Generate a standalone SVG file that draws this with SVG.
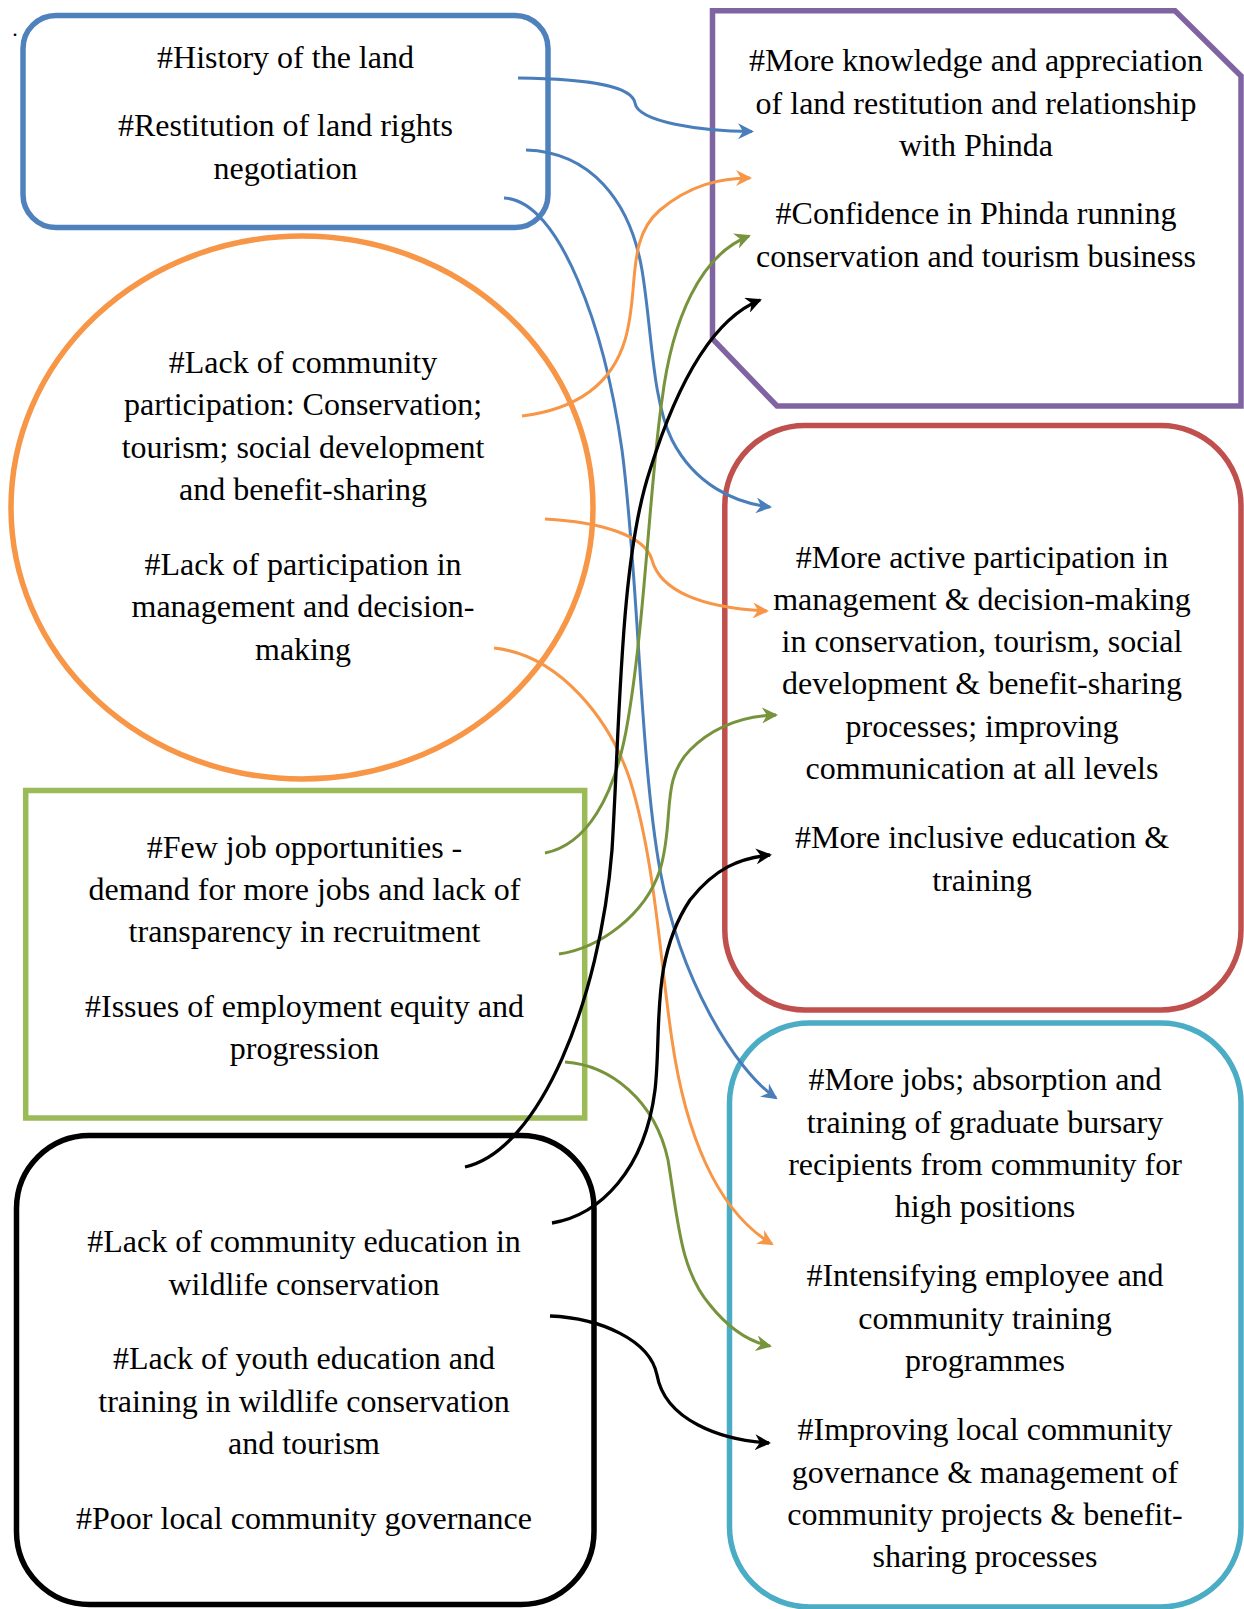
<svg xmlns="http://www.w3.org/2000/svg" width="1244" height="1609" viewBox="0 0 1244 1609">
<style>
text{font-family:"Liberation Serif","Times New Roman",serif;font-size:32px;fill:#000;text-anchor:middle}
.nb{fill:none;stroke-width:5.5}
.c{fill:none;stroke-width:3}
.cb{stroke:#4a7ebb}
.co{stroke:#f79646}
.cg{stroke:#77933c}
.ck{stroke:#000;stroke-width:3.3}
</style>
<defs>
<marker id="ab" viewBox="0 0 16 16" markerWidth="16" markerHeight="16" refX="14" refY="8" orient="auto" markerUnits="userSpaceOnUse"><path d="M0,0 L16,8 L0,16 L5,8 z" fill="#4a7ebb"/></marker>
<marker id="ao" viewBox="0 0 16 16" markerWidth="16" markerHeight="16" refX="14" refY="8" orient="auto" markerUnits="userSpaceOnUse"><path d="M0,0 L16,8 L0,16 L5,8 z" fill="#f79646"/></marker>
<marker id="ag" viewBox="0 0 16 16" markerWidth="16" markerHeight="16" refX="14" refY="8" orient="auto" markerUnits="userSpaceOnUse"><path d="M0,0 L16,8 L0,16 L5,8 z" fill="#77933c"/></marker>
<marker id="ak" viewBox="0 0 16 16" markerWidth="16" markerHeight="16" refX="14" refY="8" orient="auto" markerUnits="userSpaceOnUse"><path d="M0,0 L16,8 L0,16 L5,8 z" fill="#000"/></marker>
</defs>
<rect width="1244" height="1609" fill="#fff"/>
<text x="15" y="36" style="font-size:22px">.</text>

<g id="n-land">
<rect class="nb" x="23" y="15.5" width="525" height="212" rx="33" stroke="#4f81bd"/>
<text x="285.5" y="67.5">#History of the land</text>
<text x="285.5" y="136">#Restitution of land rights</text>
<text x="285.5" y="178.5">negotiation</text>
</g>

<g id="n-participation">
<ellipse class="nb" cx="302" cy="507.5" rx="291" ry="271.5" stroke="#f79646"/>
<text x="303" y="373">#Lack of community</text>
<text x="303" y="415">participation: Conservation;</text>
<text x="303" y="457.5">tourism; social development</text>
<text x="303" y="499.5">and benefit-sharing</text>
<text x="303" y="575">#Lack of participation in</text>
<text x="303" y="617">management and decision-</text>
<text x="303" y="659.5">making</text>
</g>

<g id="n-jobs">
<rect class="nb" x="25.7" y="790.5" width="559" height="327.5" stroke="#9bbb59"/>
<text x="304.5" y="858">#Few job opportunities -</text>
<text x="304.5" y="899.5">demand for more jobs and lack of</text>
<text x="304.5" y="941.5">transparency in recruitment</text>
<text x="304.5" y="1016.5">#Issues of employment equity and</text>
<text x="304.5" y="1059">progression</text>
</g>

<g id="n-education">
<rect class="nb" x="16.5" y="1135.5" width="577.5" height="469" rx="73" stroke="#000"/>
<text x="304" y="1252">#Lack of community education in</text>
<text x="304" y="1294.5">wildlife conservation</text>
<text x="304" y="1368.5">#Lack of youth education and</text>
<text x="304" y="1411.5">training in wildlife conservation</text>
<text x="304" y="1453.5">and tourism</text>
<text x="304" y="1529">#Poor local community governance</text>
</g>

<g id="n-knowledge">
<polygon class="nb" points="712.5,10.8 1175,10.8 1241,76 1241,406 777,406 712.5,339" stroke="#8064a2"/>
<text x="976" y="71">#More knowledge and appreciation</text>
<text x="976" y="113.5">of land restitution and relationship</text>
<text x="976" y="155.5">with Phinda</text>
<text x="976" y="224">#Confidence in Phinda running</text>
<text x="976" y="267">conservation and tourism business</text>
</g>

<g id="n-active">
<rect class="nb" x="724.8" y="425.5" width="516.2" height="584.5" rx="80" stroke="#c0504d"/>
<text x="982" y="568">#More active participation in</text>
<text x="982" y="610">management &amp; decision-making</text>
<text x="982" y="652.3">in conservation, tourism, social</text>
<text x="982" y="694.3">development &amp; benefit-sharing</text>
<text x="982" y="736.8">processes; improving</text>
<text x="982" y="778.8">communication at all levels</text>
<text x="982" y="848">#More inclusive education &amp;</text>
<text x="982" y="891.3">training</text>
</g>

<g id="n-morejobs">
<rect class="nb" x="729.5" y="1023" width="511.5" height="584" rx="80" stroke="#4bacc6"/>
<text x="985" y="1090">#More jobs; absorption and</text>
<text x="985" y="1132.5">training of graduate bursary</text>
<text x="985" y="1174.8">recipients from community for</text>
<text x="985" y="1217.3">high positions</text>
<text x="985" y="1286.3">#Intensifying employee and</text>
<text x="985" y="1328.8">community training</text>
<text x="985" y="1371.3">programmes</text>
<text x="985" y="1440">#Improving local community</text>
<text x="985" y="1482.5">governance &amp; management of</text>
<text x="985" y="1524.5">community projects &amp; benefit-</text>
<text x="985" y="1566.8">sharing processes</text>
</g>

<g id="connectors">
<path class="c cb" marker-end="url(#ab)" d="M518,78 C600,79 632,88 635,103 C638,122 700,131 752,131.5"/>
<path class="c cb" marker-end="url(#ab)" d="M526,150 C590,152 630,200 642,270 C652,330 652,400 672,440 C695,485 735,503 770,507"/>
<path class="c cb" marker-end="url(#ab)" d="M504,198 C560,200 605,330 622,450 C638,570 640,760 660,870 C680,980 735,1070 776,1098"/>
<path class="c co" marker-end="url(#ao)" d="M522,416 C570,410 610,390 625,340 C640,290 625,240 660,210 C690,185 720,178 750,178"/>
<path class="c co" marker-end="url(#ao)" d="M545,519 C600,522 645,535 652,560 C660,590 700,608 767,611"/>
<path class="c co" marker-end="url(#ao)" d="M494,648 C560,655 610,720 630,780 C655,860 660,960 672,1040 C685,1130 715,1210 772,1244"/>
<path class="c cg" marker-end="url(#ag)" d="M545,853 C585,845 615,800 628,720 C645,620 650,480 662,400 C672,320 700,255 749,236"/>
<path class="c cg" marker-end="url(#ag)" d="M559,954 C600,948 645,915 660,870 C675,820 660,780 690,750 C715,725 745,716 776,715"/>
<path class="c cg" marker-end="url(#ag)" d="M565,1062 C610,1065 655,1100 668,1160 C678,1220 680,1270 710,1305 C730,1330 750,1342 770,1346"/>
<path class="c ck" marker-end="url(#ak)" d="M465,1167 C540,1150 600,1000 612,850 C620,720 620,560 650,470 C675,390 710,320 760,300"/>
<path class="c ck" marker-end="url(#ak)" d="M552,1223 C600,1215 645,1170 655,1090 C662,1030 650,960 690,900 C715,868 740,858 770,855"/>
<path class="c ck" marker-end="url(#ak)" d="M550,1316 C600,1318 650,1340 657,1375 C665,1420 720,1440 769,1443"/>
</g>
</svg>
